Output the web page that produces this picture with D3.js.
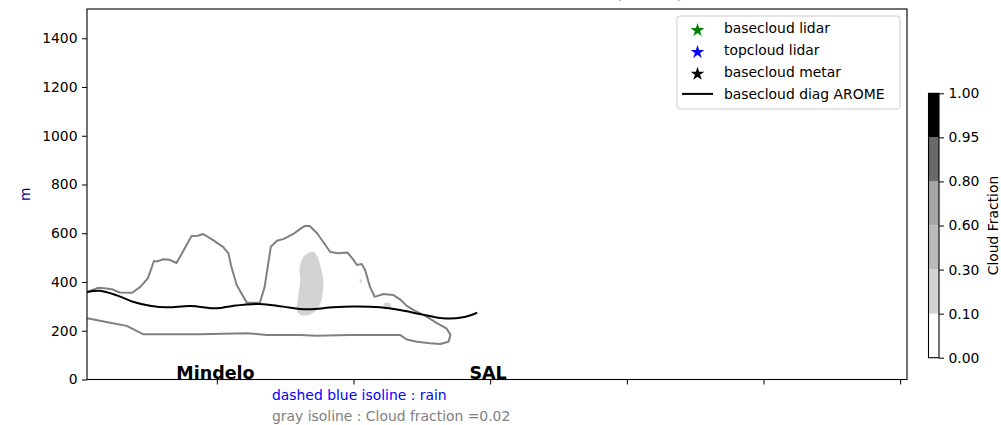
<!DOCTYPE html>
<html>
<head>
<meta charset="utf-8">
<script src="https://cdn.jsdelivr.net/npm/d3@7"></script>
<style>
  html, body { margin: 0; padding: 0; background: #fff; }
  svg { display: block; font-family: "DejaVu Sans", sans-serif; }
</style>
</head>
<body>
<svg id="chart" width="1001" height="425"></svg>
<script>
// ---------- data ----------
const titleText = "Cloud Fraction cross section MINDELO - SAL (12UTC)";
const yLabel = "m";
const yTicks = [0, 200, 400, 600, 800, 1000, 1200, 1400];
const xTicks = [20, 40, 60, 80, 100, 120];
const places = ["Mindelo", "SAL"];
const placeX = [19.8, 59.7];

// basecloud diag AROME (black line)
const baseX = [1.0, 2.9, 5.4, 7.7, 10.2, 12.7, 16.1, 20.0, 22.3, 26.3, 29.7, 33.2, 37.0, 39.9, 43.9, 46.8, 49.7, 53.1, 56.0, 58.1];
const baseM = [359, 364, 345, 319, 303, 296, 302, 292, 302, 310, 299, 288, 296, 299, 296, 285, 269, 251, 255, 274];

// gray isoline : cloud fraction = 0.02
const isoX = [1.0, 2.6, 3.6, 4.8, 5.8, 7.6, 8.8, 9.9, 10.8, 11.2, 12.1, 13.1, 14.1, 15.0, 16.3, 17.2, 18.0, 19.4, 20.9, 21.7,
  22.1, 22.9, 24.4, 26.3, 27.0, 27.9, 28.8, 29.8, 31.2, 32.2, 32.9, 33.6, 34.7, 36.6, 37.8, 39.1, 40.0, 40.5, 41.2, 41.7,
  42.4, 43.1, 44.4, 45.8, 46.8, 47.8, 48.8, 50.7, 52.2, 53.6, 54.2, 53.9, 52.7, 51.2, 49.3, 47.8, 46.8, 39.5, 34.6, 32.2,
  27.3, 24.4, 17.5, 9.2, 6.8, 4.4, 1.0];
const isoM = [359, 376, 374, 369, 357, 356, 380, 415, 486, 484, 493, 491, 478, 523, 589, 590, 597, 573, 544, 517,
  466, 388, 315, 315, 380, 545, 569, 577, 597, 618, 630, 630, 599, 523, 518, 521, 491, 470, 474, 449,
  381, 339, 351, 347, 329, 302, 285, 258, 231, 210, 183, 155, 146, 149, 155, 164, 183, 183, 179, 183,
  183, 190, 186, 186, 220, 233, 251];

// filled cloud fraction 0.10 - 0.30 patches
const patchX = [
  [33.9, 32.7, 32.1, 32.2, 31.9, 31.7, 32.2, 33.4, 34.6, 35.3, 35.6, 35.3, 34.8, 34.4],
  [40.9, 41.1, 41.2, 41.0],
  [44.5, 45.4, 45.5, 44.9, 44.4]
];
const patchM = [
  [525, 504, 456, 408, 340, 285, 265, 265, 285, 326, 395, 450, 498, 518],
  [410, 412, 400, 396],
  [312, 312, 295, 290, 300]
];

// colorbar
const cfLevels = [0, 0.10, 0.30, 0.60, 0.80, 0.95, 1.00];
const cfLabels = ["0.00", "0.10", "0.30", "0.60", "0.80", "0.95", "1.00"];
const cfColors = ["#ffffff", "#d3d3d3", "#bababa", "#a5a5a5", "#696969", "#000000"];

// legend
const legendLabels = ["basecloud lidar", "topcloud lidar", "basecloud metar", "basecloud diag AROME"];
const legendColors = ["#008000", "#0000ff", "#000000", "#000000"];
const legendKinds = ["star", "star", "star", "line"];

const notes = ["dashed blue isoline : rain", "gray isoline : Cloud fraction =0.02"];
const noteColors = ["#0000ff", "#808080"];

// ---------- layout ----------
const svg = d3.select("#chart");
const L = 87, R = 907, T = 9, B = 379.5;
const x = d3.scaleLinear().domain([1, 121]).range([L, R]);
const y = d3.scaleLinear().domain([0, 1520]).range([B, T]);
const fs = 13.9;

svg.append("defs").append("clipPath").attr("id", "clip")
  .append("rect").attr("x", L).attr("y", T).attr("width", R - L).attr("height", B - T);

const plot = svg.append("g").attr("clip-path", "url(#clip)");

// filled patches
patchX.forEach((px, k) => {
  const pts = px.map((v, i) => [x(v), y(patchM[k][i])]);
  plot.append("path")
    .attr("d", d3.line().curve(d3.curveCatmullRomClosed)(pts))
    .attr("fill", cfColors[1]).attr("stroke", "none");
});

// gray isoline
const isoPts = isoX.map((v, i) => [x(v), y(isoM[i])]);
plot.append("path")
  .attr("d", d3.line().curve(d3.curveLinear)(isoPts))
  .attr("fill", "none").attr("stroke", "#808080").attr("stroke-width", 2)
  .attr("stroke-linejoin", "round");

// black line
const basePts = baseX.map((v, i) => [x(v), y(baseM[i])]);
plot.append("path")
  .attr("d", d3.line().curve(d3.curveCatmullRom)(basePts))
  .attr("fill", "none").attr("stroke", "#000").attr("stroke-width", 2);

// place names
svg.selectAll("text.place").data(places).enter().append("text")
  .attr("class", "place")
  .attr("x", (d, i) => x(placeX[i])).attr("y", y(0) - 0.5)
  .attr("text-anchor", "middle").attr("font-weight", "bold")
  .attr("font-size", 17.5).attr("fill", "#000").text(d => d);

// axes
const yAxis = d3.axisLeft(y).tickValues(yTicks).tickSize(5).tickPadding(4.5).tickFormat(d3.format("d"));
const gy = svg.append("g").attr("transform", `translate(${L},0)`).call(yAxis);
gy.select(".domain").remove();
gy.selectAll("text").attr("font-size", fs).attr("font-family", "DejaVu Sans").attr("fill", "#000");
gy.selectAll("line").attr("stroke", "#000");

const xAxis = d3.axisBottom(x).tickValues(xTicks).tickSize(5).tickFormat("");
const gx = svg.append("g").attr("transform", `translate(0,${B})`).call(xAxis);
gx.select(".domain").remove();
gx.selectAll("line").attr("stroke", "#000");

svg.append("rect").attr("x", L).attr("y", T).attr("width", R - L).attr("height", B - T)
  .attr("fill", "none").attr("stroke", "#000").attr("stroke-width", 1.1);

// y label
svg.append("text").attr("transform", `translate(29.5,${(T + B) / 2}) rotate(-90)`)
  .attr("text-anchor", "middle").attr("font-size", fs).attr("fill", "#00008b").text(yLabel);

// title (mostly cut off above the view, as in the reference)
svg.append("text").attr("x", 683).attr("y", -2).attr("text-anchor", "end")
  .attr("font-size", 16.7).attr("fill", "#00008b").text(titleText);

// notes below
notes.forEach((t, i) => {
  svg.append("text").attr("x", 272).attr("y", 400 + i * 21)
    .attr("font-size", fs).attr("fill", noteColors[i]).text(t);
});

// legend
const lg = svg.append("g");
lg.append("rect").attr("x", 677).attr("y", 16).attr("width", 223).attr("height", 93)
  .attr("rx", 3).attr("fill", "#fff").attr("fill-opacity", 0.8)
  .attr("stroke", "#cccccc").attr("stroke-width", 1);
legendLabels.forEach((t, i) => {
  const cy = 28.5 + i * 21.8;
  if (legendKinds[i] === "star") {
    lg.append("path").attr("d", d3.symbol(d3.symbolStar, 58)())
      .attr("transform", `translate(697.5,${cy + 1.8})`).attr("fill", legendColors[i]);
  } else {
    lg.append("line").attr("x1", 682).attr("x2", 713).attr("y1", cy).attr("y2", cy)
      .attr("stroke", legendColors[i]).attr("stroke-width", 2);
  }
  lg.append("text").attr("x", 724).attr("y", cy).attr("dy", "0.35em")
    .attr("font-size", fs).attr("fill", "#000").text(t);
});

// colorbar
const cbX = 928.5, cbW = 10.5, cbT = 93.3, cbB = 357.7;
const cy = d3.scalePoint().domain(cfLevels.map(String)).range([cbB, cbT]);
const cb = svg.append("g");
for (let i = 0; i < cfColors.length; i++) {
  const y0 = cy(String(cfLevels[i])), y1 = cy(String(cfLevels[i + 1]));
  cb.append("rect").attr("x", cbX).attr("y", y1).attr("width", cbW).attr("height", y0 - y1)
    .attr("fill", cfColors[i]);
}
cb.append("rect").attr("x", cbX).attr("y", cbT).attr("width", cbW).attr("height", cbB - cbT)
  .attr("fill", "none").attr("stroke", "#000").attr("stroke-width", 1.1);
const cbAxis = d3.axisRight(cy).tickSize(5).tickPadding(4.5).tickFormat((d, i) => cfLabels[i]);
const gcb = svg.append("g").attr("transform", `translate(${cbX + cbW},0)`).call(cbAxis);
gcb.select(".domain").remove();
gcb.selectAll("text").attr("font-size", fs).attr("font-family", "DejaVu Sans").attr("fill", "#000");
gcb.selectAll("line").attr("stroke", "#000");
svg.append("text").attr("transform", `translate(993,${(cbT + cbB) / 2}) rotate(-90)`)
  .attr("text-anchor", "middle").attr("dy", "0.35em").attr("font-size", fs).attr("fill", "#000")
  .text("Cloud Fraction");
</script>
</body>
</html>
